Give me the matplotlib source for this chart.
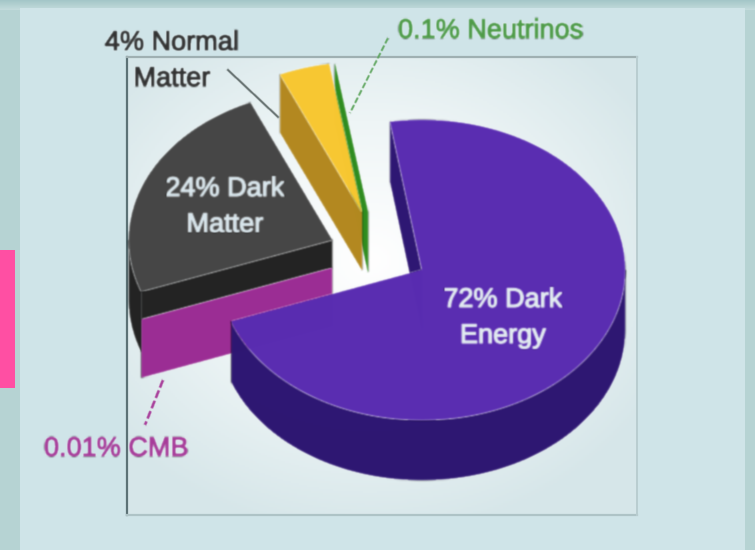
import numpy as np
import matplotlib
matplotlib.use("Agg")
import matplotlib.pyplot as plt
import matplotlib.patheffects as pe
from matplotlib.patches import Polygon, Rectangle

# data
names = ["72% Dark\nEnergy", "0.01% CMB", "24% Dark\nMatter", "4% Normal\nMatter", "0.1% Neutrinos"]
shares = np.array([72.0, 0.01, 24.0, 4.0, 0.1])

plt.rcParams['font.family'] = ['Liberation Sans', 'DejaVu Sans']

# style / layout
W, H = 755, 550
START = 99.0
RX, RY = 203, 150
CX, CY = 422, 270
TOP = ["#5a2cb2", "#9c2c94", "#454545", "#f8c832", "#2f8c1e"]
SIDE = ["#2e1672", "#9c2c94", "#222222", "#b3881f", "#2f8c1e"]
OFFS = [(0, 0), (-90, -2), (-90, -30), (-60, -58), (-54, -58)]
DEPTH = [60, 58, 28, 58, 60]


def soft(sigma):
    r = int(3 * sigma)
    k = np.exp(-0.5 * (np.arange(-r, r + 1) / sigma) ** 2)
    k /= k.sum()
    def f(img, dpi):
        pad = r + 1
        out = np.pad(img, ((pad, pad), (pad, pad), (0, 0)))
        out = np.apply_along_axis(lambda v: np.convolve(v, k, mode="same"), 0, out)
        out = np.apply_along_axis(lambda v: np.convolve(v, k, mode="same"), 1, out)
        return out, -pad, -pad
    return f


fig = plt.figure(figsize=(W / 100, H / 100), dpi=100)
ax = fig.add_axes([0, 0, 1, 1])
ax.set_xlim(0, W)
ax.set_ylim(H, 0)
ax.axis("off")

# backgrounds
ax.add_patch(Rectangle((0, 0), W, H, fc="#b6d3d3", ec="none", zorder=0))
ax.imshow(np.linspace(0, 1, 100).reshape(-1, 1), extent=(0, W, 10, 0), aspect="auto", zorder=0.5,
          cmap=matplotlib.colors.LinearSegmentedColormap.from_list("t", ["#a3c6c8", "#c4dcdc"]))
ax.add_patch(Rectangle((20, 8), 725, H - 8, fc="#cfe4e8", ec="none", zorder=1))
ax.add_patch(Rectangle((0, 250), 15, 138, fc="#ff4fa3", ec="none", zorder=1))

# inner framed panel
yy, xx = np.mgrid[57:515:229j, 127:637:255j]
d = np.hypot((xx - 370) / 330, (yy - 260) / 280)
cm = matplotlib.colors.LinearSegmentedColormap.from_list("p", ["#ffffff", "#eef5f6", "#d6e6e9"])
ax.imshow(np.clip(d, 0, 1), extent=(127, 637, 515, 57), aspect="auto", cmap=cm, zorder=1.5, vmin=0, vmax=1)
ax.set_xlim(0, W)
ax.set_ylim(H, 0)
ax.plot([127, 127], [57, 515], color="#5c7276", lw=1.6, zorder=2)
ax.plot([127, 637], [57, 57], color="#9fb0b2", lw=1.6, zorder=2)
ax.plot([127, 637], [515, 515], color="#aec3c6", lw=1.6, zorder=2)
ax.plot([637, 637], [57, 515], color="#b9cdd0", lw=1.4, zorder=2)

# slice angles from the values (clockwise)
sweep = shares / shares.sum() * 360
ends = START - np.cumsum(sweep)
starts = ends + sweep


def pt(i, ang, dz=0.0):
    ox, oy = OFFS[i]
    return (CX + ox + RX * np.cos(np.radians(ang)), CY + oy - RY * np.sin(np.radians(ang)) + dz)


def apex(i, dz=0.0):
    ox, oy = OFFS[i]
    return (CX + ox, CY + oy + dz)


def top(i):
    a = np.linspace(starts[i], ends[i], 160)
    return [apex(i)] + [pt(i, t) for t in a]


def wall(i, a0, a1, depth):
    a = np.linspace(a0, a1, 120)
    return [pt(i, t) for t in a] + [pt(i, t, depth) for t in a[::-1]]


def face(i, ang, depth, dz=0.0):
    return [apex(i, dz), pt(i, ang, dz), pt(i, ang, depth + dz), apex(i, depth + dz)]


def add(poly, color, z):
    p = Polygon(poly, closed=True, fc=color, ec=color, lw=0.5, zorder=z)
    p.set_agg_filter(soft(0.9))
    ax.add_patch(p)


# neutrinos
add(face(4, starts[4], DEPTH[4]), SIDE[4], 3.0)
# normal matter
add(face(3, starts[3], DEPTH[3]), SIDE[3], 3.1)
add(top(3), TOP[3], 3.2)
# dark matter: its clockwise-last cut (mod 360) is the near face
near = starts[2] % 360
add(wall(2, near, 180, 60), SIDE[2], 3.3)
add(face(2, near, DEPTH[2]), SIDE[2], 3.4)
add(top(2), TOP[2], 3.5)
# CMB
add(face(1, starts[1] % 360, DEPTH[1]), SIDE[1], 3.6)
# dark energy
add(face(0, starts[0], DEPTH[0]), SIDE[0], 3.7)
add(wall(0, ends[0], 0, DEPTH[0]), SIDE[0], 3.8)
add(top(0), TOP[0], 3.9)

# leader lines
lines = [((228, 70), (278, 117), "#55605f", "-", 1.5),
         ((388, 38), (350, 113), "#5aa35a", (0, (3, 1)), 1.5),
         ((163, 380), (145, 425), "#a63a98", (0, (3, 1)), 2.0)]
for a, b, c, ls, lw in lines:
    l, = ax.plot([a[0], b[0]], [a[1], b[1]], color=c, ls=ls, lw=lw, zorder=4)
    l.set_agg_filter(soft(0.6))

# labels
labels = [(503, 318, names[0], "#e4eef2", "center", 19.5),
          (44, 449, names[1], "#a83c9a", "left", 19.5),
          (225, 207, names[2], "#dbe8ee", "center", 19.5),
          (172, 61, names[3], "#333333", "center", 19.5),
          (398, 31, names[4], "#4f9c48", "left", 19.5)]
for x, y, s, c, ha, fs in labels:
    t = ax.text(x, y, s, color=c, ha=ha, va="center", fontsize=fs, multialignment="center",
                linespacing=1.5, zorder=5)
    t.set_path_effects([pe.withStroke(linewidth=0.8, foreground=c)])
    t.set_agg_filter(soft(0.8))

fig.savefig("out.png", dpi=100)
